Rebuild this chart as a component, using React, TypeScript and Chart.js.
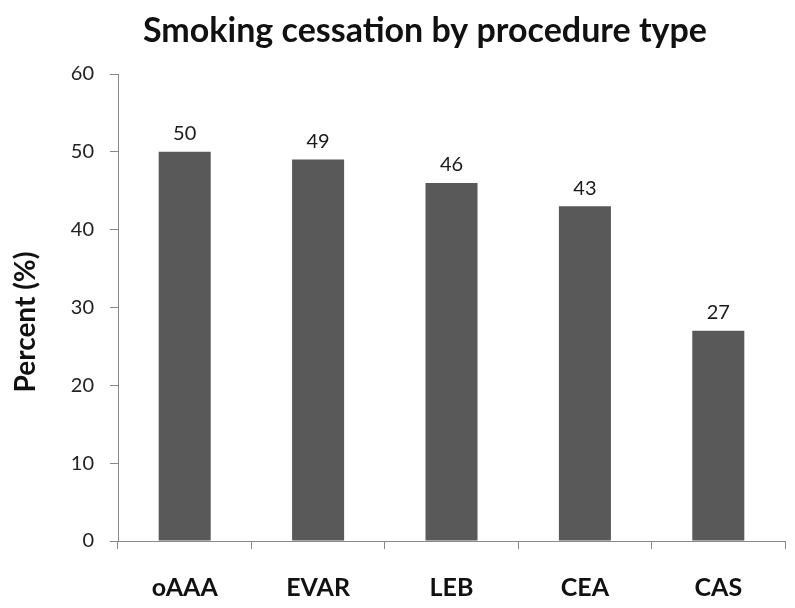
import React, { useEffect, useRef } from "react";
import { Chart, registerables } from "chart.js";

Chart.register(...registerables);

const categories = ["oAAA", "EVAR", "LEB", "CEA", "CAS"];
const values = [50, 49, 46, 43, 27];
const yTicks = [0, 10, 20, 30, 40, 50, 60];
const titleText = "Smoking cessation by procedure type";
const yTitle = "Percent (%)";

const FONT = "Lato, 'Open Sans', sans-serif";

const extras = {
  id: "extras",
  afterDatasetsDraw(chart: any) {
    const ctx = chart.ctx;
    const meta = chart.getDatasetMeta(0);
    ctx.save();
    ctx.fillStyle = "#1a1a1a";
    ctx.font = `20px ${FONT}`;
    ctx.textAlign = "center";
    ctx.textBaseline = "bottom";
    meta.data.forEach((bar: any, i: number) => {
      ctx.fillText(String(values[i]), bar.x, bar.y - 8);
    });
    ctx.fillStyle = "#111";
    ctx.font = `bold 34px ${FONT}`;
    ctx.textBaseline = "middle";
    ctx.fillText(titleText, 425, 31);
    ctx.translate(26, 322);
    ctx.rotate(-Math.PI / 2);
    ctx.font = `bold 28px ${FONT}`;
    ctx.fillText(yTitle, 0, 0);
    ctx.restore();
  },
};

export default function App() {
  const ref = useRef<HTMLCanvasElement>(null);
  useEffect(() => {
    if (!ref.current) return;
    const chart = new Chart(ref.current, {
      type: "bar",
      data: {
        labels: categories,
        datasets: [
          {
            data: values,
            backgroundColor: "#595959",
            barPercentage: 0.39,
            categoryPercentage: 1,
          },
        ],
      },
      options: {
        animation: false,
        responsive: false,
        layout: { padding: { top: 74, right: 10, left: 0, bottom: 0 } },
        plugins: { legend: { display: false }, tooltip: { enabled: false }, title: { display: false } },
        scales: {
          x: {
            offset: true,
            grid: { offset: true, drawOnChartArea: false, drawTicks: true, tickLength: 8, color: "#888" },
            border: { color: "#888", width: 1 },
            ticks: { color: "#111", font: { family: FONT, size: 25, weight: "bold" }, padding: 24 },
            afterFit: (s: any) => {
              s.height = 67;
            },
          },
          y: {
            min: 0,
            max: 60,
            afterBuildTicks: (s: any) => {
              s.ticks = yTicks.map((v) => ({ value: v }));
            },
            grid: { drawOnChartArea: false, drawTicks: true, tickLength: 8, color: "#888" },
            border: { color: "#888", width: 1 },
            ticks: { color: "#222", font: { family: FONT, size: 20 }, padding: 16 },
            afterFit: (s: any) => {
              s.width = 118;
            },
          },
        },
      },
      plugins: [extras],
    });
    return () => chart.destroy();
  }, []);
  return (
    <div style={{ position: "fixed", left: 0, top: 0, width: 795, height: 608, background: "#fff" }}>
      <canvas ref={ref} width={795} height={608} />
    </div>
  );
}
